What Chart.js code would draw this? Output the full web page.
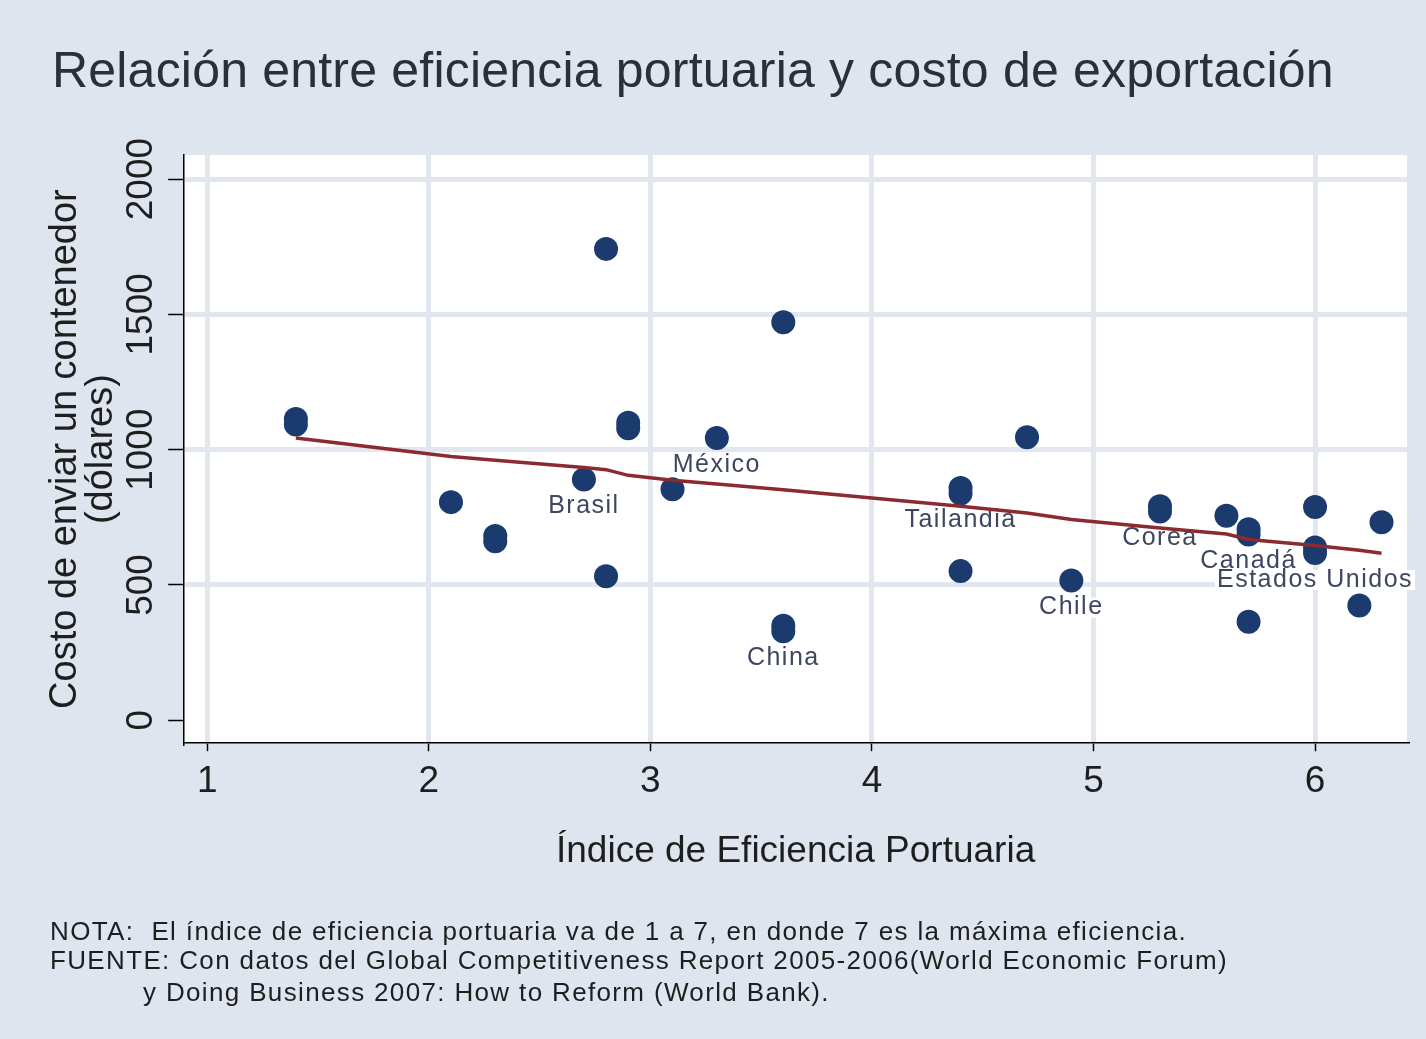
<!DOCTYPE html>
<html>
<head>
<meta charset="utf-8">
<title>Eficiencia portuaria y costo de exportación</title>
<script src="https://cdn.jsdelivr.net/npm/chart.js@4.4.1/dist/chart.umd.min.js"></script>
<style>
  html, body { margin: 0; padding: 0; background: #dfe5ee; }
  #wrap { width: 1426px; height: 1039px; }
</style>
</head>
<body>
<div id="wrap"><canvas id="chartPuertos" width="1426" height="1039"></canvas></div>
<script>
// datos
var indice = [1.4, 1.4, 2.1, 2.3, 2.3, 2.7, 2.8, 2.8, 2.9, 2.9, 3.1, 3.3, 3.6, 3.6, 3.6, 4.4, 4.4, 4.4, 4.7, 4.9, 5.3, 5.3, 5.6, 5.7, 5.7, 5.7, 6.0, 6.0, 6.0, 6.2, 6.3];
var costo = [1113, 1093, 806, 681, 661, 890, 1742, 532, 1099, 1079, 854, 1043, 1471, 349, 329, 858, 838, 551, 1046, 516, 791, 771, 756, 706, 686, 364, 788, 638, 618, 424, 732];
var pais = ['', '', '', '', '', 'Brasil', '', '', '', '', '', 'México', '', '', 'China', '', 'Tailandia', '', '', 'Chile', '', 'Corea', '', '', 'Canadá', '', '', '', 'Estados Unidos', '', ''];

// linea de ajuste
var ajusteX = [1.4, 2.1, 2.3, 2.7, 2.8, 2.9, 3.1, 3.3, 3.6, 4.4, 4.7, 4.9, 5.3, 5.6, 5.7, 6.0, 6.2, 6.3];
var ajusteY = [1043, 975, 961, 934, 926, 905, 887, 873, 852, 791, 766, 742, 710, 688, 668, 646, 628, 617];

var xTicks = [1, 2, 3, 4, 5, 6];
var yTicks = [0, 500, 1000, 1500, 2000];

var titulo = 'Relación entre eficiencia portuaria y costo de exportación';
var tituloY = ['Costo de enviar un contenedor', '(dólares)'];
var tituloX = 'Índice de Eficiencia Portuaria';
var notas = [
  'NOTA:  El índice de eficiencia portuaria va de 1 a 7, en donde 7 es la máxima eficiencia.',
  'FUENTE: Con datos del Global Competitiveness Report 2005-2006(World Economic Forum)',
  'y Doing Business 2007: How to Reform (World Bank).'
];

var fuente = '"Liberation Sans", Arial, sans-serif';
var colorFondo = '#dfe5ee';
var colorRejilla = '#e2e7ef';
var colorPunto = '#1b3b6f';
var colorLinea = '#8c2a32';
var colorTexto = '#1e1e1e';
var colorEtiqueta = '#3e4660';

// fondo de la figura y area blanca del grafico
var fondoPlugin = {
  id: 'fondo',
  beforeDraw: function(chart) {
    var ctx = chart.ctx, a = chart.chartArea;
    ctx.save();
    ctx.fillStyle = colorFondo;
    ctx.fillRect(0, 0, chart.width, chart.height);
    ctx.fillStyle = '#ffffff';
    ctx.fillRect(a.left, a.top, a.right - a.left, a.bottom - a.top);
    ctx.restore();
  }
};

// etiquetas de paises, debajo del punto (antes de la linea)
var etiquetasPlugin = {
  id: 'etiquetas',
  afterDatasetDraw: function(chart, args) {
    if (args.index !== 1) return;
    var ctx = chart.ctx;
    var meta = chart.getDatasetMeta(1);
    ctx.save();
    ctx.font = '25px ' + fuente;
    ctx.letterSpacing = '1.5px';
    ctx.textAlign = 'center';
    ctx.textBaseline = 'middle';
    meta.data.forEach(function(pt, i) {
      if (!pais[i]) return;
      var w = ctx.measureText(pais[i]).width;
      var y = pt.y + 27;
      ctx.fillStyle = '#ffffff';
      ctx.fillRect(pt.x - w / 2 - 2, y - 10, w + 4, 20);
      ctx.fillStyle = colorEtiqueta;
      ctx.fillText(pais[i], pt.x, y);
    });
    ctx.restore();
  }
};

// titulo, notas y etiquetas rotadas del eje y
var textosPlugin = {
  id: 'textos',
  afterDraw: function(chart) {
    var ctx = chart.ctx;
    var yScale = chart.scales.y;
    ctx.save();
    ctx.fillStyle = '#2a2f3b';
    ctx.font = '50px ' + fuente;
    ctx.letterSpacing = '0.2px';
    ctx.textAlign = 'left';
    ctx.textBaseline = 'alphabetic';
    ctx.fillText(titulo, 52, 87);

    ctx.fillStyle = colorTexto;
    ctx.font = '26px ' + fuente;
    ctx.letterSpacing = '1.35px';
    var notaX = [50, 50, 143];
    var notaY = [940, 969, 1001];
    notas.forEach(function(linea, i) {
      ctx.fillText(linea, notaX[i], notaY[i]);
    });
    ctx.letterSpacing = '0px';

    ctx.font = '37px ' + fuente;
    ctx.textAlign = 'center';
    ctx.textBaseline = 'middle';
    yTicks.forEach(function(v) {
      ctx.save();
      ctx.translate(142, yScale.getPixelForValue(v));
      ctx.rotate(-Math.PI / 2);
      ctx.fillText(String(v), 0, 0);
      ctx.restore();
    });
    ctx.restore();
  }
};

var ctx = document.getElementById('chartPuertos');
new Chart(ctx, {
  data: {
    datasets: [{
      type: 'line',
      label: 'ajuste',
      data: ajusteX.map(function(x, i) { return {x: x, y: ajusteY[i]}; }),
      borderColor: colorLinea,
      borderWidth: 3.5,
      pointRadius: 0,
      tension: 0,
      fill: false,
      order: 0
    }, {
      type: 'scatter',
      label: 'paises',
      data: indice.map(function(x, i) { return {x: x, y: costo[i]}; }),
      backgroundColor: colorPunto,
      borderWidth: 0,
      pointRadius: 12,
      order: 1
    }]
  },
  options: {
    responsive: false,
    animation: false,
    devicePixelRatio: 1,
    events: [],
    layout: {
      padding: {left: 0, top: 155, right: 19, bottom: 165}
    },
    plugins: {
      legend: {display: false},
      tooltip: {enabled: false}
    },
    scales: {
      x: {
        type: 'linear',
        min: 0.896,
        max: 6.415,
        afterBuildTicks: function(scale) {
          scale.ticks = xTicks.map(function(v) { return {value: v}; });
        },
        ticks: {
          color: colorTexto,
          font: {family: fuente, size: 37},
          padding: 8,
          maxRotation: 0
        },
        grid: {
          color: colorRejilla,
          lineWidth: 5,
          tickColor: '#000',
          tickWidth: 1.5,
          tickLength: 8
        },
        border: {display: true, color: '#000', width: 1.5},
        title: {
          display: true,
          text: tituloX,
          color: colorTexto,
          font: {family: fuente, size: 37, lineHeight: 1.2},
          padding: {top: 18, bottom: 0}
        }
      },
      y: {
        type: 'linear',
        min: -85,
        max: 2089,
        afterBuildTicks: function(scale) {
          scale.ticks = yTicks.map(function(v) { return {value: v}; });
        },
        ticks: {display: false},
        grid: {
          color: function(c) {
            return c.tick && c.tick.value === 0 ? 'rgba(0,0,0,0)' : colorRejilla;
          },
          lineWidth: 5,
          tickColor: '#000',
          tickWidth: 1.5,
          tickLength: 16
        },
        border: {display: true, color: '#000', width: 1.5},
        title: {
          display: true,
          text: tituloY,
          color: colorTexto,
          font: {family: fuente, size: 38, lineHeight: 0.95},
          padding: {top: 47, bottom: 49}
        }
      }
    }
  },
  plugins: [fondoPlugin, etiquetasPlugin, textosPlugin]
});
</script>
</body>
</html>
